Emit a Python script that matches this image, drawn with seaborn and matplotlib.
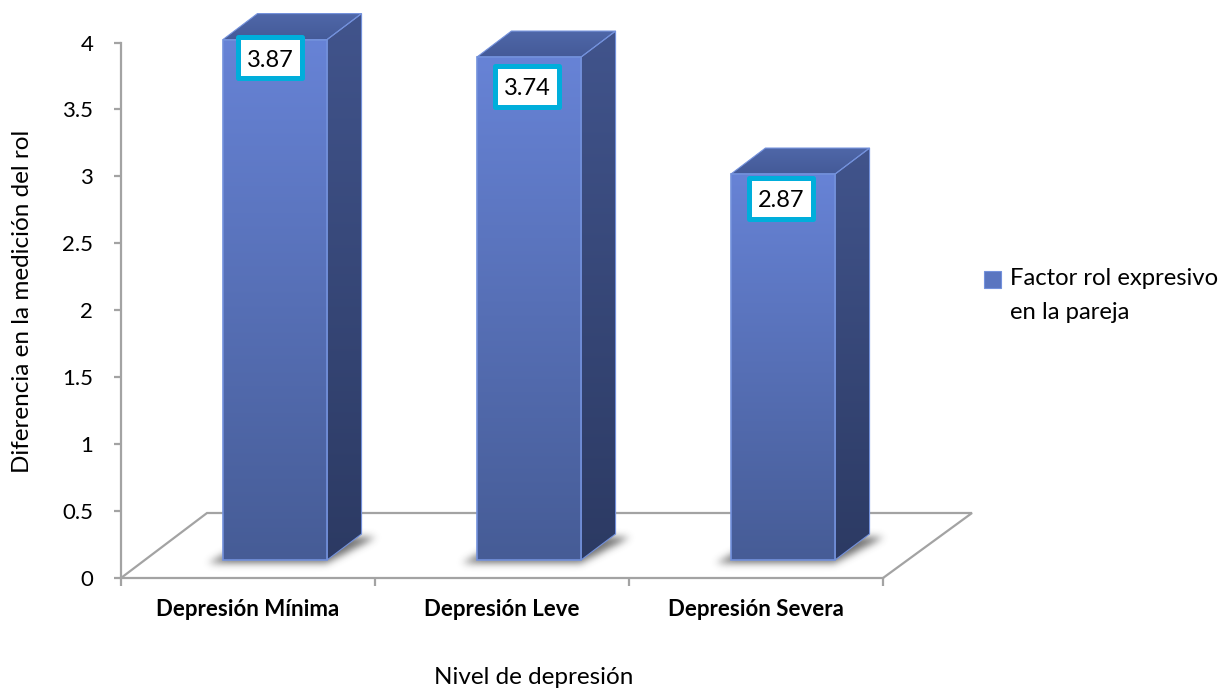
import numpy as np
import pandas as pd
import seaborn as sns
import matplotlib
matplotlib.use("Agg")
import matplotlib.pyplot as plt
from matplotlib.colors import LinearSegmentedColormap, to_rgb
from matplotlib.patches import Patch, Polygon, Rectangle
from matplotlib.path import Path
from matplotlib.transforms import Affine2D, IdentityTransform

# datos
niveles = ['Depresión Mínima', 'Depresión Leve', 'Depresión Severa']
valores = [3.87, 3.74, 2.87]
etiquetas = ['3.87', '3.74', '2.87']
yticks = [0, 0.5, 1, 1.5, 2, 2.5, 3, 3.5, 4]
ytick_labels = ['0', '0.5', '1', '1.5', '2', '2.5', '3', '3.5', '4']
serie = 'Factor rol expresivo\nen la pareja'

W, H = 1223, 689
GRIS = '#a3a3a3'
BORDE = '#7391dc'

df = pd.DataFrame({'nivel': niveles, 'valor': valores})

sns.set_theme(style='white')
plt.rcParams['font.family'] = ['Lato', 'DejaVu Sans']

fig = plt.figure(figsize=(W / 100, H / 100), dpi=100)
ax = fig.add_axes([121 / W, 1 - 578 / H, (883 - 121) / W, (578 - 42.5) / H])
ax.patch.set_visible(False)

sns.barplot(data=df, x='nivel', y='valor', width=0.41, color='#5a75c0', ax=ax)
ax.set_xlim(-0.5, 2.5)
ax.set_ylim(0, 4)
px = IdentityTransform()

# desplazamiento de la barra sobre el piso y profundidad (pixeles)
dx_bar, dy_bar = 27, 18
dx_prof, dy_prof = 34.5, 26


def gradiente(xy, arriba, abajo, zorder, clip=None):
    xy = np.array(xy, dtype=float)
    cmap = LinearSegmentedColormap.from_list('g', [arriba, abajo])
    ext = [xy[:, 0].min(), xy[:, 0].max(), xy[:, 1].min(), xy[:, 1].max()]
    im = ax.imshow(np.linspace(0, 1, 256)[:, None], cmap=cmap, extent=ext,
                   origin='upper', aspect='auto', transform=px, zorder=zorder,
                   interpolation='bilinear')
    if clip is None:
        clip = Polygon(xy, closed=True, transform=px)
    im.set_clip_box(fig.bbox)
    im.set_clip_path(clip)
    return im


def sombra(xy, zorder):
    # sombra difusa bajo la barra
    xy = np.array(xy, dtype=float)
    pad = 20
    x0, x1 = int(xy[:, 0].min()) - pad, int(xy[:, 0].max()) + pad
    y0, y1 = int(xy[:, 1].min()) - pad, int(xy[:, 1].max()) + pad
    gx, gy = np.meshgrid(np.arange(x0, x1), np.arange(y0, y1))
    mask = Path(xy).contains_points(np.c_[gx.ravel(), gy.ravel()]).reshape(gx.shape).astype(float)
    k = np.exp(-np.arange(-12, 13) ** 2 / (2 * 3.8 ** 2))
    k = k / k.sum()
    mask = np.apply_along_axis(lambda r: np.convolve(r, k, mode='same'), 0, mask)
    mask = np.apply_along_axis(lambda r: np.convolve(r, k, mode='same'), 1, mask)
    rgba = np.zeros(mask.shape + (4,))
    rgba[..., :3] = to_rgb('#333333')
    rgba[..., 3] = mask * 0.7
    im = ax.imshow(rgba, extent=[x0, x1, y0, y1], origin='lower', aspect='auto',
                   transform=px, zorder=zorder, interpolation='bilinear')
    im.set_clip_box(fig.bbox)


# piso en perspectiva
x0p, y0p = ax.transData.transform((-0.5, 0))
x1p, _ = ax.transData.transform((2.5, 0))
ax.add_line(plt.Line2D([x0p, x0p + 86, x1p + 89, x1p],
                       [y0p, y0p + 65, y0p + 65, y0p],
                       color=GRIS, lw=1.6, transform=px, zorder=1, clip_on=False,
                       solid_joinstyle='miter'))

# barras: el frente viene de seaborn, se le suman los lados
desplazar = ax.transData + Affine2D().translate(0, -y0p).scale(1, 1.0045).translate(dx_bar, y0p + dy_bar)
for bar in ax.containers[0]:
    x, w, h = bar.get_x(), bar.get_width(), bar.get_height()
    xl, yb = desplazar.transform((x, 0))
    xr, yt = desplazar.transform((x + w, h))

    sombra([(xl - 14, yb - 3), (xr, yb - 3), (xr + dx_prof + 15, yb + dy_prof - 3),
            (xl + dx_prof, yb + dy_prof - 3)], 1.5)

    lado = [(xr, yb), (xr + dx_prof, yb + dy_prof), (xr + dx_prof, yt + dy_prof), (xr, yt)]
    tapa = [(xl, yt), (xr, yt), (xr + dx_prof, yt + dy_prof), (xl + dx_prof, yt + dy_prof)]
    gradiente(lado, '#41548c', '#2c3a63', 2)
    gradiente(tapa, '#4f67a8', '#445a98', 2)
    for cara in (lado, tapa):
        ax.add_patch(Polygon(cara, closed=True, fill=False, edgecolor=BORDE, lw=0.8,
                             transform=px, zorder=2.5, clip_on=False))

    bar.set_transform(desplazar)
    bar.set_facecolor('none')
    bar.set_edgecolor(BORDE)
    bar.set_linewidth(1.2)
    bar.set_clip_on(False)
    bar.set_zorder(3.5)
    gradiente([(xl, yb), (xr, yb), (xr, yt), (xl, yt)], '#6783d6', '#465c96', 3)

# etiquetas de datos (centro de la caja en pixeles respecto al centro superior de la barra)
centros_y = [18, 29, 24]
centros_x = [-5, -2, -2]
for bar, txt, cy, cx in zip(ax.containers[0], etiquetas, centros_y, centros_x):
    xc, yt = desplazar.transform((bar.get_x() + bar.get_width() / 2, bar.get_height()))
    ax.add_patch(Rectangle((xc + cx - 32, yt - cy - 20.5), 64, 41, fc='white', ec='#00aedb',
                           lw=3.6, joinstyle='round', transform=px, zorder=5, clip_on=False))
    ax.text(xc + cx, yt - cy - 2.5, txt, transform=px, ha='center', va='center', fontsize=17,
            color='black', zorder=6, clip_on=False)

# ejes
ax.set_xlabel('')
ax.set_ylabel('')
ax.set_yticks(yticks)
ax.set_yticklabels(ytick_labels, fontsize=16, color='black')
ax.set_xticks(range(3))
ax.set_xticklabels(niveles, fontsize=16, fontweight='bold', color='black')
ax.set_xticks([-0.5, 0.5, 1.5, 2.5], minor=True)
ax.tick_params(axis='y', left=True, length=5, width=1.6, color=GRIS, pad=15)
ax.tick_params(axis='x', which='major', bottom=False, length=0, pad=15)
ax.tick_params(axis='x', which='minor', bottom=True, length=6, width=1.6, color=GRIS)
for lado_eje in ('top', 'right'):
    ax.spines[lado_eje].set_visible(False)
for lado_eje in ('left', 'bottom'):
    ax.spines[lado_eje].set_color(GRIS)
    ax.spines[lado_eje].set_linewidth(1.6)

fig.text(23 / W, 1 - 301 / H, 'Diferencia en la medición del rol', rotation=90,
         ha='center', va='center', fontsize=17.5, color='black')
fig.text(534 / W, 1 - 678 / H, 'Nivel de depresión', ha='center', va='center',
         fontsize=17.5, color='black')

# leyenda
leg = ax.legend(handles=[Patch(facecolor='#5a75c0', edgecolor=BORDE, lw=0.8, label=serie)],
                loc='upper left', bbox_to_anchor=(984 / W, 1 - 268 / H),
                bbox_transform=fig.transFigure, frameon=False, fontsize=17.2,
                handlelength=0.7, handleheight=0.7, handletextpad=0.4,
                labelspacing=0, borderpad=0, borderaxespad=0)
for t in leg.get_texts():
    t.set_color('black')
    t.set_linespacing(1.75)

ax.set_xlim(-0.5, 2.5)
ax.set_ylim(0, 4)
fig.canvas.draw()
# cuadro de la leyenda a la altura de la primera linea
cuadro = leg.get_patches()[0]
caja = cuadro.get_window_extent()
subir = (H - 279.5) - (caja.y0 + caja.y1) / 2
cuadro.set_y(cuadro.get_y() + subir * 0.72)
fig.canvas.draw()
caja = cuadro.get_window_extent()
gradiente([(caja.x0, caja.y0), (caja.x1, caja.y1)], '#6783d6', '#465c96', 6)
ax.set_xlim(-0.5, 2.5)
ax.set_ylim(0, 4)
fig.savefig('out.png', dpi=100, facecolor='white')
